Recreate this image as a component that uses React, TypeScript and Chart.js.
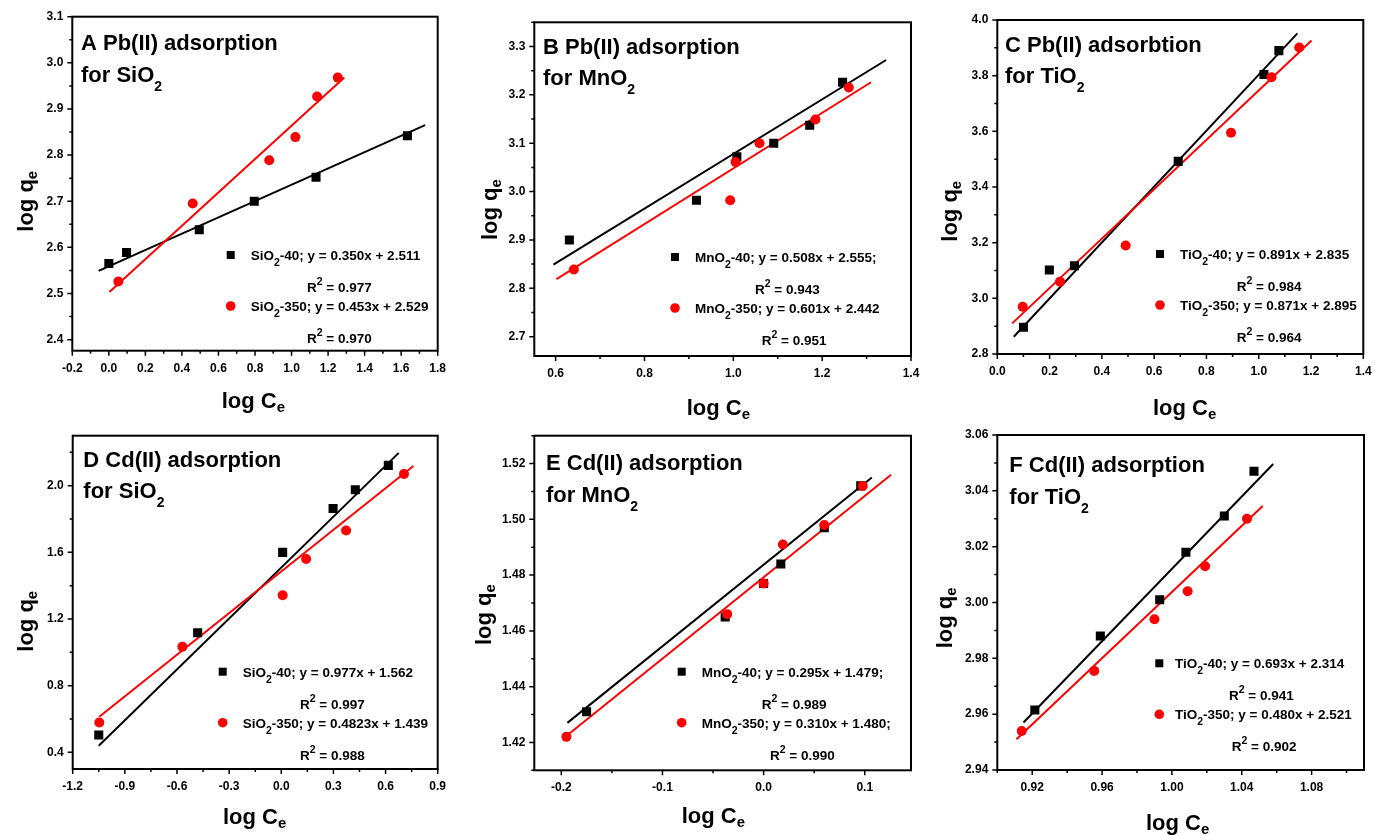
import React, { useEffect, useRef } from 'react';
import { Chart, registerables } from 'chart.js';

Chart.register(...registerables);

const FONT = '"Liberation Sans", Arial, Helvetica, sans-serif';

// ---------- Panel A: Pb(II) on SiO2 ----------
const aX40 = [0.0, 0.097, 0.495, 0.796, 1.134, 1.634];
const aY40 = [2.565, 2.589, 2.638, 2.7, 2.752, 2.842];
const aX350 = [0.052, 0.459, 0.878, 1.021, 1.14, 1.253];
const aY350 = [2.526, 2.695, 2.789, 2.839, 2.927, 2.968];
const aFit40X = [-0.056, 1.731];
const aFit40Y = [2.549, 2.865];
const aFit350X = [0.003, 1.289];
const aFit350Y = [2.503, 2.968];
const aXTicks = ['-0.2', '0.0', '0.2', '0.4', '0.6', '0.8', '1.0', '1.2', '1.4', '1.6', '1.8'];
const aYTicks = ['2.4', '2.5', '2.6', '2.7', '2.8', '2.9', '3.0', '3.1'];
const aTitle = ['A Pb(II) adsorption', 'for SiO_2'];
const aLegend = ['SiO_2-40; y = 0.350x + 2.511', 'R^2 = 0.977', 'SiO_2-350; y = 0.453x + 2.529', 'R^2 = 0.970'];

// ---------- Panel B: Pb(II) on MnO2 ----------
const bX40 = [0.631, 0.917, 1.008, 1.091, 1.172, 1.246];
const bY40 = [2.9, 2.982, 3.072, 3.1, 3.137, 3.226];
const bX350 = [0.641, 0.993, 1.005, 1.059, 1.185, 1.26];
const bY350 = [2.839, 2.982, 3.061, 3.1, 3.149, 3.215];
const bFit40X = [0.595, 1.344];
const bFit40Y = [2.849, 3.272];
const bFit350X = [0.602, 1.31];
const bFit350Y = [2.819, 3.226];
const bXTicks = ['0.6', '0.8', '1.0', '1.2', '1.4'];
const bYTicks = ['2.7', '2.8', '2.9', '3.0', '3.1', '3.2', '3.3'];
const bTitle = ['B Pb(II) adsorption', 'for MnO_2'];
const bLegend = ['MnO_2-40; y = 0.508x + 2.555;', 'R^2 = 0.943', 'MnO_2-350; y = 0.601x + 2.442', 'R^2 = 0.951'];

// ---------- Panel C: Pb(II) on TiO2 ----------
const cX40 = [0.1, 0.199, 0.295, 0.692, 1.02, 1.077];
const cY40 = [2.896, 3.102, 3.117, 3.492, 3.804, 3.89];
const cX350 = [0.097, 0.24, 0.491, 0.894, 1.049, 1.155];
const cY350 = [2.97, 3.06, 3.19, 3.595, 3.794, 3.901];
const cFit40X = [0.063, 1.148];
const cFit40Y = [2.862, 3.952];
const cFit350X = [0.057, 1.202];
const cFit350Y = [2.91, 3.926];
const cXTicks = ['0.0', '0.2', '0.4', '0.6', '0.8', '1.0', '1.2', '1.4'];
const cYTicks = ['2.8', '3.0', '3.2', '3.4', '3.6', '3.8', '4.0'];
const cTitle = ['C Pb(II) adsorbtion', 'for TiO_2'];
const cLegend = ['TiO_2-40; y = 0.891x + 2.835', 'R^2 = 0.984', 'TiO_2-350; y = 0.871x + 2.895', 'R^2 = 0.964'];

// ---------- Panel D: Cd(II) on SiO2 ----------
const dX40 = [-1.05, -0.481, 0.008, 0.298, 0.426, 0.616];
const dY40 = [0.504, 1.117, 1.6, 1.863, 1.976, 2.122];
const dX350 = [-1.047, -0.569, 0.008, 0.143, 0.373, 0.706];
const dY350 = [0.579, 1.034, 1.343, 1.56, 1.731, 2.07];
const dFit40X = [-1.05, 0.676];
const dFit40Y = [0.44, 2.197];
const dFit350X = [-1.047, 0.76];
const dFit350Y = [0.613, 2.118];
const dXTicks = ['-1.2', '-0.9', '-0.6', '-0.3', '0.0', '0.3', '0.6', '0.9'];
const dYTicks = ['0.4', '0.8', '1.2', '1.6', '2.0'];
const dTitle = ['D Cd(II) adsorption', 'for SiO_2'];
const dLegend = ['SiO_2-40; y = 0.977x + 1.562', 'R^2 = 0.997', 'SiO_2-350; y = 0.4823x + 1.439', 'R^2 = 0.988'];

// ---------- Panel E: Cd(II) on MnO2 ----------
const eX40 = [-0.175, -0.038, 0.0, 0.017, 0.06, 0.096];
const eY40 = [1.431, 1.465, 1.477, 1.484, 1.497, 1.512];
const eX350 = [-0.195, -0.036, 0.0, 0.019, 0.06, 0.098];
const eY350 = [1.422, 1.466, 1.477, 1.491, 1.498, 1.512];
const eFit40X = [-0.194, 0.107];
const eFit40Y = [1.427, 1.515];
const eFit350X = [-0.196, 0.126];
const eFit350Y = [1.422, 1.516];
const eXTicks = ['-0.2', '-0.1', '0.0', '0.1'];
const eYTicks = ['1.42', '1.44', '1.46', '1.48', '1.50', '1.52'];
const eTitle = ['E Cd(II) adsorption', 'for MnO_2'];
const eLegend = ['MnO_2-40; y = 0.295x + 1.479;', 'R^2 = 0.989', 'MnO_2-350; y = 0.310x + 1.480;', 'R^2 = 0.990'];

// ---------- Panel F: Cd(II) on TiO2 ----------
const fX40 = [0.9215, 0.959, 0.993, 1.008, 1.03, 1.047];
const fY40 = [2.9615, 2.988, 3.001, 3.018, 3.031, 3.047];
const fX350 = [0.914, 0.9555, 0.99, 1.009, 1.019, 1.043];
const fY350 = [2.954, 2.9755, 2.994, 3.004, 3.013, 3.03];
const fFit40X = [0.915, 1.058];
const fFit40Y = [2.957, 3.0496];
const fFit350X = [0.911, 1.052];
const fFit350Y = [2.951, 3.0346];
const fXTicks = ['0.92', '0.96', '1.00', '1.04', '1.08'];
const fYTicks = ['2.94', '2.96', '2.98', '3.00', '3.02', '3.04', '3.06'];
const fTitle = ['F Cd(II) adsorption', 'for TiO_2'];
const fLegend = ['TiO_2-40; y = 0.693x + 2.314', 'R^2 = 0.941', 'TiO_2-350; y = 0.480x + 2.521', 'R^2 = 0.902'];

const xAxisTitle = 'log C_e';
const yAxisTitle = 'log q_e';

type PanelCfg = {
  id: string;
  canvas: number[]; // left, top, width, height (page)
  plot: number[]; // left, top, right, bottom (page)
  xRange: number[];
  yRange: number[];
  xTicks: string[];
  yTicks: string[];
  s40: number[][];
  s350: number[][];
  f40: number[][];
  f350: number[][];
  title: string[];
  titlePos: number[]; // x, baseline1, baseline2
  legend: string[];
  legendPos: { mx: number; tx: number; r1x: number; r2x: number; y1: number };
  xTitlePos: number[];
  yTitlePos: number[];
};

const panels: PanelCfg[] = [
  {
    id: 'A', canvas: [0, 0, 460, 425], plot: [72.3, 16.7, 437.7, 350.7],
    xRange: [-0.2, 1.8], yRange: [2.376, 3.1], xTicks: aXTicks, yTicks: aYTicks,
    s40: [aX40, aY40], s350: [aX350, aY350], f40: [aFit40X, aFit40Y], f350: [aFit350X, aFit350Y],
    title: aTitle, titlePos: [81, 50, 81.7], legend: aLegend,
    legendPos: { mx: 230.7, tx: 250.7, r1x: 307, r2x: 307, y1: 260 },
    xTitlePos: [221.7, 408], yTitlePos: [33, 231.7],
  },
  {
    id: 'B', canvas: [455, 0, 465, 425], plot: [534.3, 22.3, 911, 356],
    xRange: [0.552, 1.4], yRange: [2.66, 3.35], xTicks: bXTicks, yTicks: bYTicks,
    s40: [bX40, bY40], s350: [bX350, bY350], f40: [bFit40X, bFit40Y], f350: [bFit350X, bFit350Y],
    title: bTitle, titlePos: [543, 54, 85], legend: bLegend,
    legendPos: { mx: 675, tx: 695, r1x: 755, r2x: 761.7, y1: 262 },
    xTitlePos: [686.7, 415], yTitlePos: [497, 240],
  },
  {
    id: 'C', canvas: [915, 0, 460, 425], plot: [997.3, 20, 1363.3, 354],
    xRange: [0, 1.4], yRange: [2.8, 4.0], xTicks: cXTicks, yTicks: cYTicks,
    s40: [cX40, cY40], s350: [cX350, cY350], f40: [cFit40X, cFit40Y], f350: [cFit350X, cFit350Y],
    title: cTitle, titlePos: [1005, 52.3, 83.3], legend: cLegend,
    legendPos: { mx: 1160, tx: 1180, r1x: 1236.7, r2x: 1236.7, y1: 259 },
    xTitlePos: [1153, 415], yTitlePos: [957, 241.7],
  },
  {
    id: 'D', canvas: [0, 415, 460, 421], plot: [72.7, 435.7, 437.7, 769],
    xRange: [-1.2, 0.9], yRange: [0.3, 2.3], xTicks: dXTicks, yTicks: dYTicks,
    s40: [dX40, dY40], s350: [dX350, dY350], f40: [dFit40X, dFit40Y], f350: [dFit350X, dFit350Y],
    title: dTitle, titlePos: [83.3, 466.7, 497.7], legend: dLegend,
    legendPos: { mx: 222.7, tx: 242.7, r1x: 300, r2x: 300, y1: 676.7 },
    xTitlePos: [223, 824], yTitlePos: [33, 651.7],
  },
  {
    id: 'E', canvas: [455, 415, 465, 421], plot: [534.3, 435.7, 911, 770.3],
    xRange: [-0.2267, 0.1457], yRange: [1.41, 1.53], xTicks: eXTicks, yTicks: eYTicks,
    s40: [eX40, eY40], s350: [eX350, eY350], f40: [eFit40X, eFit40Y], f350: [eFit350X, eFit350Y],
    title: eTitle, titlePos: [546, 470, 501.7], legend: eLegend,
    legendPos: { mx: 681.7, tx: 701.7, r1x: 761.7, r2x: 770, y1: 676.7 },
    xTitlePos: [681.7, 823], yTitlePos: [491, 645],
  },
  {
    id: 'F', canvas: [915, 415, 460, 421], plot: [997.3, 435, 1364, 770],
    xRange: [0.9, 1.11], yRange: [2.94, 3.06], xTicks: fXTicks, yTicks: fYTicks,
    s40: [fX40, fY40], s350: [fX350, fY350], f40: [fFit40X, fFit40Y], f350: [fFit350X, fFit350Y],
    title: fTitle, titlePos: [1009.3, 472.3, 504.3], legend: fLegend,
    legendPos: { mx: 1159.3, tx: 1175, r1x: 1229, r2x: 1231.7, y1: 668.3 },
    xTitlePos: [1146, 830], yTitlePos: [952, 648.3],
  },
];

function toPts(xs: number[], ys: number[]) {
  return xs.map((x, i) => ({ x, y: ys[i] }));
}

function parseRich(s: string) {
  const segs: { t: string; k: number }[] = [];
  let buf = '';
  for (let i = 0; i < s.length; i++) {
    const c = s[i];
    if ((c === '_' || c === '^') && i + 1 < s.length) {
      if (buf) { segs.push({ t: buf, k: 0 }); buf = ''; }
      segs.push({ t: s[i + 1], k: c === '_' ? 1 : 2 });
      i++;
    } else buf += c;
  }
  if (buf) segs.push({ t: buf, k: 0 });
  return segs;
}

function drawRich(ctx: CanvasRenderingContext2D, s: string, x: number, y: number, size: number, small: number, subDy: number, supDy: number) {
  let cx = x;
  for (const seg of parseRich(s)) {
    const fs = seg.k === 0 ? size : small;
    ctx.font = `bold ${fs}px ${FONT}`;
    const dy = seg.k === 1 ? subDy : seg.k === 2 ? -supDy : 0;
    ctx.fillText(seg.t, cx, y + dy);
    cx += ctx.measureText(seg.t).width;
  }
}

function makeDecor(p: PanelCfg) {
  const ox = p.canvas[0];
  const oy = p.canvas[1];
  return {
    id: 'decor' + p.id,
    afterDraw(chart: any) {
      const ctx: CanvasRenderingContext2D = chart.ctx;
      const { left, top, right, bottom } = chart.chartArea;
      const xs = chart.scales.x;
      const ys = chart.scales.y;
      ctx.save();
      ctx.fillStyle = '#000';
      ctx.strokeStyle = '#000';

      // ticks
      ctx.lineWidth = 1.5;
      const drawAxisTicks = (labels: string[], scale: any, isX: boolean, lo: number, hi: number) => {
        const vals = labels.map((l) => parseFloat(l));
        const step = vals[1] - vals[0];
        const eps = step * 1e-3;
        ctx.beginPath();
        vals.forEach((v) => {
          const px = scale.getPixelForValue(v);
          if (isX) { ctx.moveTo(px, bottom); ctx.lineTo(px, bottom + 5); }
          else { ctx.moveTo(left, px); ctx.lineTo(left - 5, px); }
        });
        for (let k = -1; k < vals.length; k++) {
          const v = vals[0] + (k + 0.5) * step;
          if (v < lo - eps || v > hi + eps) continue;
          const px = scale.getPixelForValue(v);
          if (isX) { ctx.moveTo(px, bottom); ctx.lineTo(px, bottom + 3); }
          else { ctx.moveTo(left, px); ctx.lineTo(left - 3, px); }
        }
        ctx.stroke();
        ctx.font = `bold 12px ${FONT}`;
        ctx.textBaseline = 'middle';
        ctx.textAlign = isX ? 'center' : 'right';
        labels.forEach((l, i) => {
          const px = scale.getPixelForValue(vals[i]);
          if (isX) ctx.fillText(l, px, bottom + 17.5);
          else ctx.fillText(l, left - 9, px);
        });
      };
      drawAxisTicks(p.xTicks, xs, true, p.xRange[0], p.xRange[1]);
      drawAxisTicks(p.yTicks, ys, false, p.yRange[0], p.yRange[1]);

      // frame
      ctx.lineWidth = 2;
      ctx.strokeRect(left, top, right - left, bottom - top);

      ctx.textAlign = 'left';
      ctx.textBaseline = 'alphabetic';

      // axis titles
      drawRich(ctx, xAxisTitle, p.xTitlePos[0] - ox, p.xTitlePos[1] - oy, 22, 15, 4, 0);
      ctx.save();
      ctx.translate(p.yTitlePos[0] - ox, p.yTitlePos[1] - oy);
      ctx.rotate(-Math.PI / 2);
      drawRich(ctx, yAxisTitle, 0, 0, 22, 15, 4, 0);
      ctx.restore();

      // panel title
      drawRich(ctx, p.title[0], p.titlePos[0] - ox, p.titlePos[1] - oy, 22, 14, 9, 0);
      drawRich(ctx, p.title[1], p.titlePos[0] - ox, p.titlePos[2] - oy, 22, 14, 9, 0);

      // legend
      const L = p.legendPos;
      const y1 = L.y1 - oy;
      const y3 = y1 + 51;
      ctx.fillStyle = '#000';
      ctx.fillRect(L.mx - ox - 4, y1 - 5 - 4, 8, 8);
      ctx.fillStyle = '#ff0000';
      ctx.beginPath();
      ctx.arc(L.mx - ox, y3 - 5, 4.8, 0, Math.PI * 2);
      ctx.fill();
      ctx.fillStyle = '#000';
      drawRich(ctx, p.legend[0], L.tx - ox, y1, 13.5, 10.5, 6, 7);
      drawRich(ctx, p.legend[1], L.r1x - ox, y1 + 32, 13.5, 10.5, 6, 7);
      drawRich(ctx, p.legend[2], L.tx - ox, y3, 13.5, 10.5, 6, 7);
      drawRich(ctx, p.legend[3], L.r2x - ox, y1 + 83, 13.5, 10.5, 6, 7);

      ctx.restore();
    },
  };
}

function Panel({ p }: { p: PanelCfg }) {
  const ref = useRef<HTMLCanvasElement>(null);
  useEffect(() => {
    const [cl, ct, cw, ch] = p.canvas;
    const [pl, pt, pr, pb] = p.plot;
    const leftSpace = pl - cl;
    const bottomSpace = ct + ch - pb;
    const chart = new Chart(ref.current as HTMLCanvasElement, {
      type: 'scatter',
      data: {
        datasets: [
          {
            data: toPts(p.s350[0], p.s350[1]),
            pointStyle: 'circle', pointRadius: 5, pointBackgroundColor: '#ff0000',
            pointBorderWidth: 0, backgroundColor: '#ff0000', borderColor: '#ff0000', order: 0,
          },
          {
            data: toPts(p.s40[0], p.s40[1]),
            pointStyle: 'rect', pointRadius: 6.4, pointBackgroundColor: '#000000',
            pointBorderWidth: 0, backgroundColor: '#000000', borderColor: '#000000', order: 1,
          },
          {
            data: toPts(p.f350[0], p.f350[1]),
            showLine: true, pointRadius: 0, borderColor: '#ff0000', borderWidth: 2, fill: false, order: 2,
          },
          {
            data: toPts(p.f40[0], p.f40[1]),
            showLine: true, pointRadius: 0, borderColor: '#000000', borderWidth: 2, fill: false, order: 3,
          },
        ] as any,
      },
      options: {
        animation: false,
        responsive: false,
        devicePixelRatio: 1,
        events: [],
        layout: { padding: { left: 0, bottom: 0, top: pt - ct, right: cl + cw - pr } },
        plugins: { legend: { display: false }, tooltip: { enabled: false }, title: { display: false } },
        scales: {
          x: {
            type: 'linear', min: p.xRange[0], max: p.xRange[1],
            ticks: { display: false }, grid: { display: false }, border: { display: false },
            afterFit: (s: any) => { s.height = bottomSpace; s.paddingLeft = 0; s.paddingRight = 0; },
          },
          y: {
            type: 'linear', min: p.yRange[0], max: p.yRange[1],
            ticks: { display: false }, grid: { display: false }, border: { display: false },
            afterFit: (s: any) => { s.width = leftSpace; s.paddingTop = 0; s.paddingBottom = 0; },
          },
        },
      } as any,
      plugins: [makeDecor(p)],
    });
    return () => chart.destroy();
  }, [p]);
  return (
    <canvas
      ref={ref}
      width={p.canvas[2]}
      height={p.canvas[3]}
      style={{ position: 'absolute', left: p.canvas[0], top: p.canvas[1], width: p.canvas[2], height: p.canvas[3] }}
    />
  );
}

export default function App() {
  return (
    <div style={{ position: 'absolute', left: 0, top: 0, width: 1375, height: 836, background: '#fff', overflow: 'hidden' }}>
      {panels.map((p) => (
        <Panel key={p.id} p={p} />
      ))}
    </div>
  );
}
